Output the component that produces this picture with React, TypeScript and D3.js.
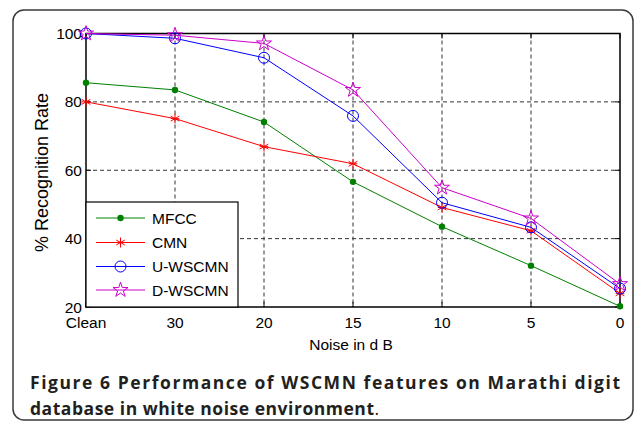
import React from "react";
import * as d3 from "d3";

const categories = ["Clean", "30", "20", "15", "10", "5", "0"];
const mfcc = [85.6, 83.5, 74.1, 56.6, 43.5, 32.1, 20.2];
const cmn = [80.0, 75.1, 66.9, 61.9, 49.1, 42.3, 24.0];
const uWscmn = [100, 98.6, 92.9, 75.9, 50.5, 43.3, 25.4];
const dWscmn = [100, 99.5, 97.1, 83.5, 54.9, 45.9, 26.7];
const yTicks = [20, 40, 60, 80, 100];

const series = [
  { name: "MFCC", values: mfcc, color: "#008000", marker: "dot" },
  { name: "CMN", values: cmn, color: "#ff0000", marker: "asterisk" },
  { name: "U-WSCMN", values: uWscmn, color: "#0000ff", marker: "circle" },
  { name: "D-WSCMN", values: dWscmn, color: "#cc00cc", marker: "star" },
];

const W = 637;
const H = 426;
const left = 86;
const right = 620;
const top = 33.5;
const bottom = 307;
const font = "'Liberation Sans', Arial, sans-serif";
const fs = 15.5;

const starPath = d3.symbol().type(d3.symbolStar).size(70)() as string;

function Marker({ kind, x, y, color }: { kind: string; x: number; y: number; color: string }) {
  if (kind === "dot") return <circle cx={x} cy={y} r={3.2} fill={color} />;
  if (kind === "circle")
    return <circle cx={x} cy={y} r={5.5} fill="none" stroke={color} strokeWidth={1} />;
  if (kind === "star")
    return <path d={starPath} transform={`translate(${x},${y})`} fill="none" stroke={color} strokeWidth={1} />;
  // asterisk
  const r = 5;
  const lines = [0, 60, 120].map((a) => {
    const t = (a * Math.PI) / 180;
    return (
      <line key={a} x1={x - r * Math.sin(t)} y1={y - r * Math.cos(t)} x2={x + r * Math.sin(t)} y2={y + r * Math.cos(t)} stroke={color} strokeWidth={1} />
    );
  });
  return (
    <g>
      {lines}
      <line x1={x - r * 0.85} y1={y} x2={x + r * 0.85} y2={y} stroke={color} strokeWidth={1} />
    </g>
  );
}

export default function App() {
  const x = d3.scalePoint<string>().domain(categories).range([left, right]);
  const y = d3.scaleLinear().domain([20, 100]).range([bottom, top]);
  const line = d3
    .line<number>()
    .x((_, i) => x(categories[i]) as number)
    .y((d) => y(d));

  const legendX = left;
  const legendY = 202;
  const legendW = 152;
  const legendH = bottom - legendY;
  const legendRows = [218, 242.5, 266.5, 290];

  return (
    <svg width={W} height={H} style={{ position: "absolute", left: 0, top: 0 }} fontFamily={font}>
      <rect x={0} y={0} width={W} height={H} fill="#fff" />
      <rect x={13} y={10} width={620} height={410} rx={11} fill="none" stroke="#3a3a3a" strokeWidth={1.5} />

      {/* grid */}
      {categories.slice(1, -1).map((c) => (
        <line key={c} x1={x(c)} x2={x(c)} y1={top} y2={bottom} stroke="#333" strokeDasharray="4,3" strokeWidth={1} />
      ))}
      {yTicks.slice(1, -1).map((t) => (
        <line key={t} x1={left} x2={right} y1={y(t)} y2={y(t)} stroke="#333" strokeDasharray="4,3" strokeWidth={1} />
      ))}

      {/* ticks */}
      {yTicks.map((t) => (
        <g key={"yt" + t}>
          <line x1={left} x2={left + 5} y1={y(t)} y2={y(t)} stroke="#000" />
          <line x1={right} x2={right - 5} y1={y(t)} y2={y(t)} stroke="#000" />
          <text x={left - 4} y={y(t)} dy="0.36em" textAnchor="end" fontSize={fs}>
            {t}
          </text>
        </g>
      ))}
      {categories.map((c) => (
        <g key={"xt" + c}>
          <line x1={x(c)} x2={x(c)} y1={bottom} y2={bottom - 5} stroke="#000" />
          <line x1={x(c)} x2={x(c)} y1={top} y2={top + 5} stroke="#000" />
          <text x={x(c)} y={328} textAnchor="middle" fontSize={fs}>
            {c}
          </text>
        </g>
      ))}

      <rect x={left} y={top} width={right - left} height={bottom - top} fill="none" stroke="#000" strokeWidth={1.5} />

      {/* series */}
      {series.map((s) => (
        <g key={s.name}>
          <path d={line(s.values) as string} fill="none" stroke={s.color} strokeWidth={1} />
          {s.values.map((v, i) => (
            <Marker key={i} kind={s.marker} x={x(categories[i]) as number} y={y(v)} color={s.color} />
          ))}
        </g>
      ))}

      {/* legend */}
      <rect x={legendX} y={legendY} width={legendW} height={legendH} fill="#fff" stroke="#000" strokeWidth={1.2} />
      {series.map((s, i) => (
        <g key={"lg" + s.name}>
          <line x1={96} x2={145} y1={legendRows[i]} y2={legendRows[i]} stroke={s.color} strokeWidth={1} />
          <Marker kind={s.marker} x={120.5} y={legendRows[i]} color={s.color} />
          <text x={152} y={legendRows[i]} dy="0.36em" fontSize={fs}>
            {s.name}
          </text>
        </g>
      ))}

      {/* axis labels */}
      <text x={351} y={350} textAnchor="middle" fontSize={fs}>
        Noise in d B
      </text>
      <text transform="translate(48,172.5) rotate(-90)" textAnchor="middle" fontSize={18}>
        % Recognition Rate
      </text>

      {/* caption */}
      <g fontFamily="'Open Sans', sans-serif" fill="#231f20" fontSize={17.5}>
        <text x={30} y={389} textLength={590} lengthAdjust="spacing" fontWeight="bold">
          Figure 6 Performance of WSCMN features on Marathi digit
        </text>
        <text x={30} y={415}>
          <tspan fontWeight="bold" textLength={344} lengthAdjust="spacing">
            database in white noise environment
          </tspan>
          <tspan>.</tspan>
        </text>
      </g>
    </svg>
  );
}
